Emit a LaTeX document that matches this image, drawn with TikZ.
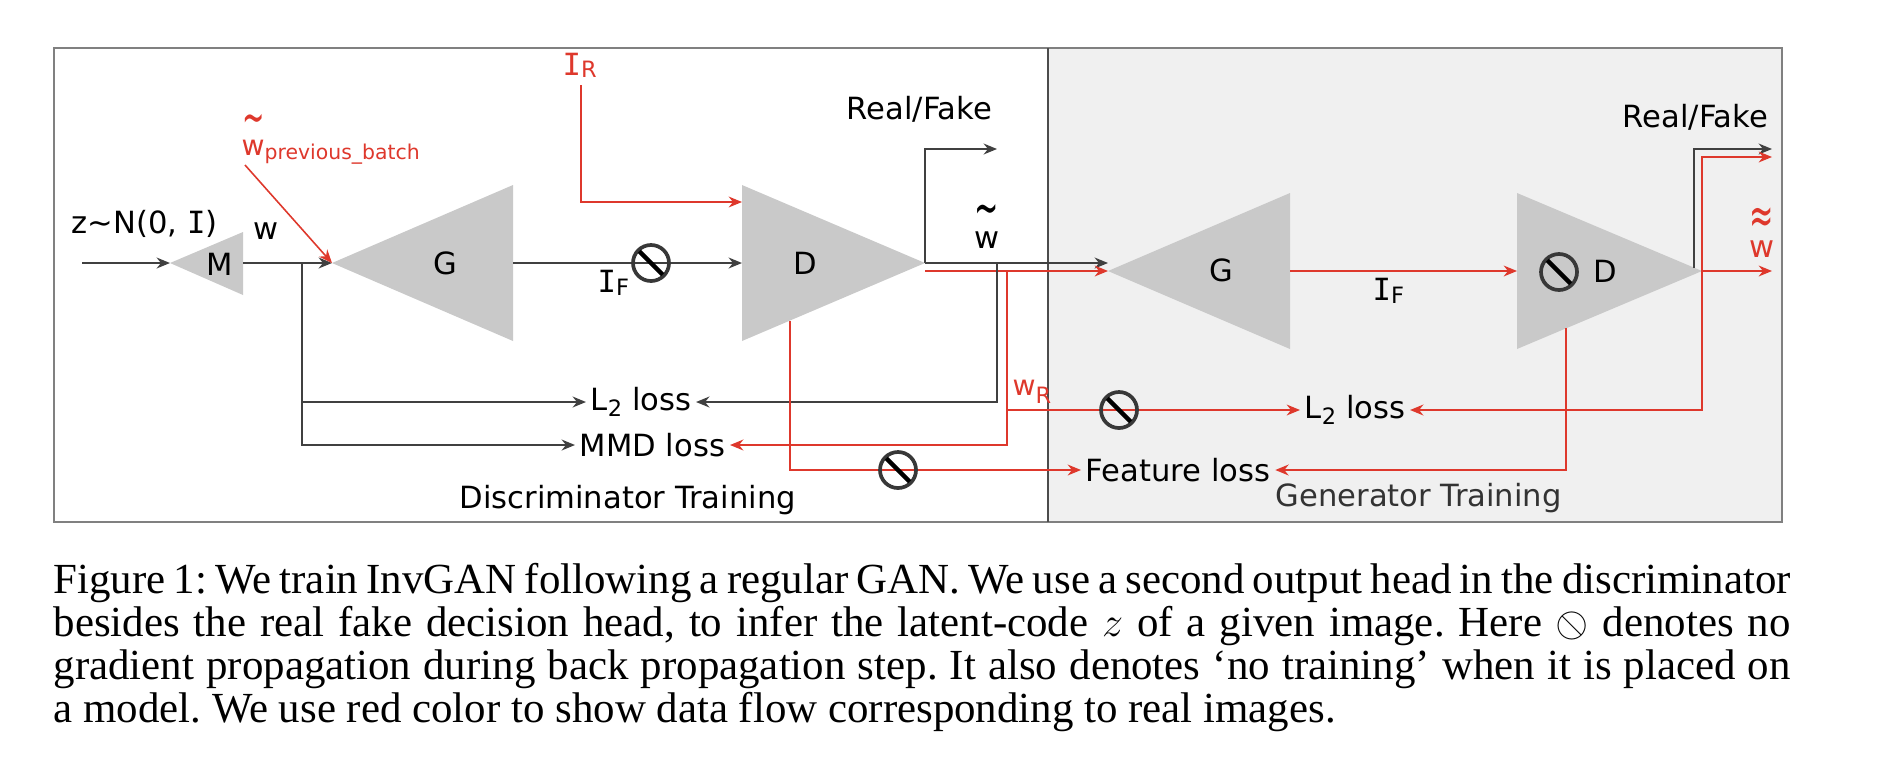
\documentclass[tikz,border=0pt]{standalone}
\usepackage{amsmath, amssymb, graphicx, xcolor}
\usepackage{fontspec}
\setmainfont{Liberation Serif}
\newfontfamily\labelfont{DejaVu Sans}
\newfontfamily\serifI{DejaVu Sans Mono}
\usetikzlibrary{arrows.meta}

\definecolor{realred}{RGB}{222,56,44}
\definecolor{netgray}{RGB}{201,201,201}
\definecolor{panelgray}{RGB}{240,240,240}

\newcommand{\Ii}{{\serifI I}}
\newcommand{\lowsub}[2][1pt]{\raisebox{-#1}{\fontsize{6.4}{7}\selectfont #2}}
\newcommand{\tildew}{\shortstack{\scalebox{0.95}[1.8]{\textasciitilde}\\[-1.6pt]w}}
\newcommand{\approxw}{\shortstack{\scalebox{0.95}[1.7]{≈}\\[-1.2pt]w}}
\newcommand{\tightspaces}{\frenchspacing\spaceskip=0.25em plus 0.3em minus 0.13em\relax\hyphenpenalty=10000\relax
    \baselineskip=10.6pt\relax\lineskiplimit=-20pt\relax}

\begin{document}
\begin{tikzpicture}[x=0.01cm, y=-0.01cm, >={Stealth[length=3.8pt, width=3.1pt]},
    lbl/.style={font=\labelfont\fontsize{8.7}{10}\selectfont, inner sep=0pt},
    loss/.style={lbl, anchor=west, inner xsep=1.2pt},
    blk/.style={line width=0.55pt, black!75},
    rd/.style={line width=0.45pt, realred},
    net/.style={fill=netgray},
    nograd/.pic={\draw[line width=1.05pt, black!78] (0,0) circle (0.18cm);
                 \draw[line width=1.25pt, black] (135:0.165cm) -- (-45:0.165cm);}]
    \useasboundingbox (0,0) rectangle (1882,778);
    \fill[panelgray] (1048,48) rectangle (1782,522);
    \draw[black!50, line width=0.6pt] (54,48) rectangle (1782,522);
    \draw[black!70, line width=0.6pt] (1048,48) -- (1048,522);

    \coordinate (zin) at (82,263);
    \coordinate (Min) at (170,263);
    \coordinate (Mout) at (243,263);
    \coordinate (wsplit) at (302,263);
    \coordinate (Gin) at (332,263);
    \coordinate (Gout) at (513,263);
    \coordinate (Din) at (742,263);
    \coordinate (Dout) at (925,263);
    \coordinate (Dlow) at (790,321);
    \coordinate (G2in) at (1108,271);
    \coordinate (G2out) at (1290,271);
    \coordinate (D2in) at (1517,271);
    \coordinate (D2out) at (1702,271);
    \coordinate (D2up) at (1694,268);
    \coordinate (D2low) at (1566,328);
    \coordinate (wprevfoot) at (245,165);
    \coordinate (IRfoot) at (581,85);
    \coordinate (IRin) at (742,202);
    \coordinate (rfend) at (997,149);
    \coordinate (wtsplit) at (997,263);
    \coordinate (wrsplit) at (1007,271);
    \coordinate (wRsplit) at (1007,410);
    \coordinate (rf2end) at (1772,149);
    \coordinate (rw2end) at (1772,157);
    \coordinate (wwend) at (1772,271);

    \fill[net] (Min) -- (243,232) -- (243,295) -- cycle;
    \fill[net] (Gin) -- (513,185) -- (513,341) -- cycle;
    \fill[net] (742,185) -- (742,341) -- (Dout) -- cycle;
    \fill[net] (G2in) -- (1290,193) -- (1290,349) -- cycle;
    \fill[net] (1517,193) -- (1517,349) -- (D2out) -- cycle;

    \node[lbl] (M) at (220,264) {M};
    \node[lbl] (G) at (445,263) {G};
    \node[lbl] (D) at (805,263) {D};
    \node[lbl] (G2) at (1221,270) {G};
    \node[lbl] (D2) at (1605,271) {D};

    \node[lbl, anchor=base west] (z) at (71,233) {z∼N(0, \Ii)};
    \node[lbl, anchor=base] (w) at (266,239) {w};
    \node[lbl, anchor=base west, realred, font=\labelfont\fontsize{8}{9}\selectfont] (wprev) at (241,155)
        {\tildew\raisebox{-1.4pt}{\fontsize{5.8}{7}\selectfont previous\_batch}};
    \node[lbl, anchor=base west, realred] (IR) at (562,75) {\Ii\lowsub[0.6pt]{R}};
    \node[lbl, anchor=base west] (IF) at (597,292) {\Ii\lowsub{F}};
    \node[lbl, anchor=base west] (IF2) at (1372,300) {\Ii\lowsub{F}};
    \node[lbl, anchor=base west] (rf) at (846,119) {Real/Fake};
    \node[lbl, anchor=base west] (rf2) at (1622,127) {Real/Fake};
    \node[lbl, anchor=base] (wt) at (987,248) {\tildew};
    \node[lbl, anchor=base, realred] (wtt) at (1762,257) {\approxw};
    \node[lbl, anchor=base west, realred, font=\labelfont\fontsize{8}{9}\selectfont] (wR) at (1012,395) {w\lowsub[2.3pt]{R}};
    \node[loss] (l2a) at (586,402) {L\lowsub[1.5pt]{2} loss};
    \node[loss] (mmd) at (575,445) {MMD loss};
    \node[loss] (l2b) at (1300,410) {L\lowsub[1.5pt]{2} loss};
    \node[loss] (feat) at (1081,470) {Feature loss};
    \node[lbl, anchor=base west] (dtrain) at (459,508) {Discriminator Training};
    \node[lbl, anchor=base west, black!80] (gtrain) at (1275,506) {Generator Training};

    \draw[blk, ->] (zin) -- (Min);
    \draw[blk, ->] (Mout) -- (Gin);
    \draw[blk, ->] (wsplit) |- (l2a.west);
    \draw[blk, ->] (wsplit) |- (mmd.west);
    \draw[rd, ->] (wprevfoot) -- (Gin);
    \draw[blk, ->] (Gout) -- (Din);
    \draw[rd, ->] (IRfoot) |- (IRin);
    \draw[blk, ->] (Dout) |- (rfend);
    \draw[blk, ->] (Dout) -- (G2in |- Dout);
    \draw[rd, ->] (Dout |- G2in) -- (G2in);
    \draw[blk, ->] (wtsplit) |- (l2a.east);
    \draw[rd, ->] (wrsplit) |- (mmd.east);
    \draw[rd, ->] (wRsplit) -- (l2b.west);
    \draw[rd, ->] (Dlow) |- (feat.west);
    \draw[rd, ->] (G2out) -- (D2in);
    \draw[blk, ->] (D2up) |- (rf2end);
    \draw[rd, ->] (D2out) |- (rw2end);
    \draw[rd, ->] (D2out) -- (wwend);
    \draw[rd, ->] (D2out) |- (l2b.east);
    \draw[rd, ->] (D2low) |- (feat.east);

    \pic at (651,263) {nograd};
    \pic at (1119,410) {nograd};
    \pic at (898,470) {nograd};
    \pic at (1559,272) {nograd};

    \node[anchor=north west, inner sep=0pt, text width=17.36cm, align=justify,
          font=\fontsize{12.2}{10.6}\selectfont] (caption) at (53,563)
        {\tightspaces Figure 1: We train InvGAN following a regular GAN. We use a second output head in the discriminator\linebreak
         besides the real fake decision head, to infer the latent-code $z$ of a given image. Here \reflectbox{$\oslash$} denotes no\linebreak
         gradient propagation during back propagation step. It also denotes `no training' when it is placed on\linebreak
         a model. We use red color to show data flow corresponding to real images.};
\end{tikzpicture}
\end{document}
